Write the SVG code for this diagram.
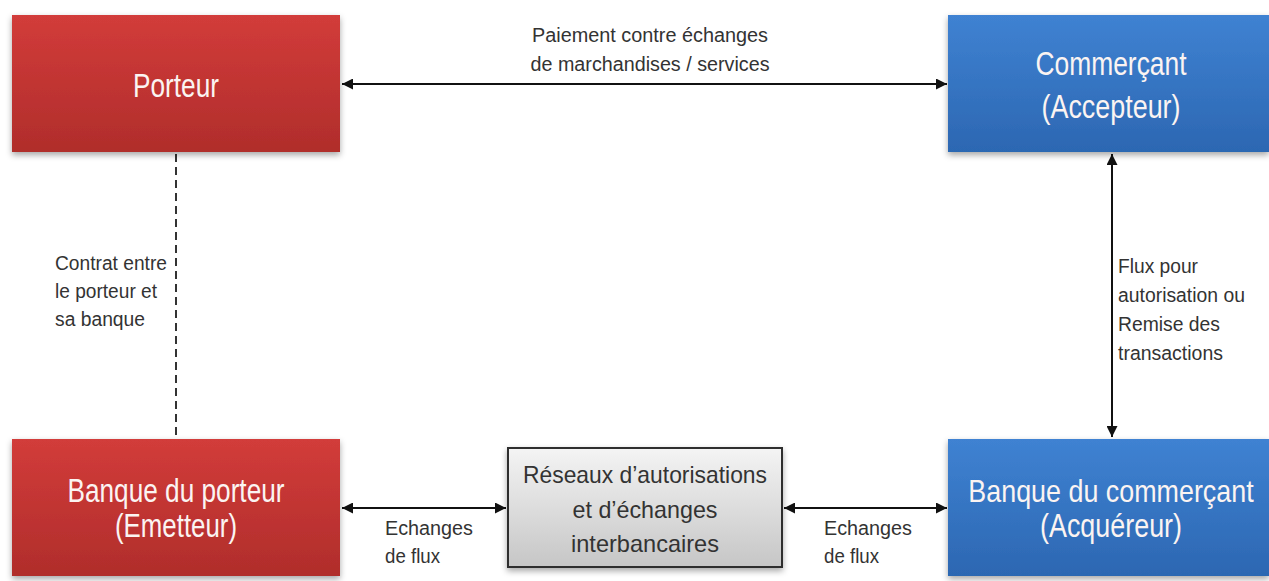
<svg xmlns="http://www.w3.org/2000/svg" width="1269" height="581" viewBox="0 0 1269 581">
  <defs>
    <linearGradient id="gRed" x1="0" y1="0" x2="0" y2="1">
      <stop offset="0" stop-color="#d23c3a"/>
      <stop offset="1" stop-color="#b02d2b"/>
    </linearGradient>
    <linearGradient id="gBlue" x1="0" y1="0" x2="0" y2="1">
      <stop offset="0" stop-color="#3f82d2"/>
      <stop offset="1" stop-color="#2c67b2"/>
    </linearGradient>
    <linearGradient id="gGray" x1="0" y1="0" x2="0" y2="1">
      <stop offset="0" stop-color="#f4f4f4"/>
      <stop offset="1" stop-color="#c6c6c6"/>
    </linearGradient>
    <filter id="shadow" x="-10%" y="-10%" width="120%" height="130%">
      <feDropShadow dx="0" dy="3" stdDeviation="3" flood-color="#000" flood-opacity="0.35"/>
    </filter>
    <marker id="arrow" viewBox="0 0 10 10" refX="10" refY="5" markerWidth="5.5" markerHeight="5.5" orient="auto-start-reverse" markerUnits="strokeWidth">
      <path d="M0,0 L10,5 L0,10 z" fill="#111"/>
    </marker>
  </defs>
  <style>
    .node-text { font-family: "Liberation Sans", Arial, sans-serif; fill: #fbf4f2; text-anchor: middle; }
    .big { font-size: 33px; }
    .mid { font-size: 24px; fill: #333; }
    .label { font-family: "Liberation Sans", Arial, sans-serif; font-size: 20px; fill: #333; }
    .conn { stroke: #111; stroke-width: 2; fill: none; }
    .bi { marker-start: url(#arrow); marker-end: url(#arrow); }
    .dash { stroke: #333; stroke-width: 2; stroke-dasharray: 8 5; fill: none; }
  </style>

  <rect width="1269" height="581" fill="#ffffff"/>

  <!-- connectors -->
  <g id="connectors">
    <line class="conn bi" x1="342" y1="84" x2="947" y2="84"/>
    <line class="dash" x1="176" y1="154" x2="176" y2="437"/>
    <line class="conn bi" x1="1112" y1="154" x2="1112" y2="437"/>
    <line class="conn bi" x1="342" y1="508" x2="506" y2="508"/>
    <line class="conn bi" x1="784" y1="508" x2="947" y2="508"/>

    <text class="label" text-anchor="middle" x="650" y="42" textLength="236" lengthAdjust="spacingAndGlyphs">Paiement  contre échanges</text>
    <text class="label" text-anchor="middle" x="650" y="71" textLength="239" lengthAdjust="spacingAndGlyphs">de marchandises / services</text>

    <text class="label" x="55" y="270" textLength="112" lengthAdjust="spacingAndGlyphs">Contrat entre</text>
    <text class="label" x="55" y="298" textLength="102" lengthAdjust="spacingAndGlyphs">le porteur et</text>
    <text class="label" x="55" y="326" textLength="90" lengthAdjust="spacingAndGlyphs">sa banque</text>

    <text class="label" x="1118" y="273" textLength="80" lengthAdjust="spacingAndGlyphs">Flux pour</text>
    <text class="label" x="1118" y="302" textLength="127" lengthAdjust="spacingAndGlyphs">autorisation ou</text>
    <text class="label" x="1118" y="331" textLength="102" lengthAdjust="spacingAndGlyphs">Remise des</text>
    <text class="label" x="1118" y="360" textLength="105" lengthAdjust="spacingAndGlyphs">transactions</text>

    <text class="label" x="385" y="535" textLength="88" lengthAdjust="spacingAndGlyphs">Echanges</text>
    <text class="label" x="385" y="563" textLength="55" lengthAdjust="spacingAndGlyphs">de flux</text>
    <text class="label" x="824" y="535" textLength="88" lengthAdjust="spacingAndGlyphs">Echanges</text>
    <text class="label" x="824" y="563" textLength="55" lengthAdjust="spacingAndGlyphs">de flux</text>
  </g>

  <!-- nodes -->
  <g id="porteur">
    <rect x="12" y="15" width="328" height="137" fill="url(#gRed)" filter="url(#shadow)"/>
    <text class="node-text big" x="176" y="97" textLength="86" lengthAdjust="spacingAndGlyphs">Porteur</text>
  </g>

  <g id="commercant">
    <rect x="948" y="15" width="321" height="137" fill="url(#gBlue)" filter="url(#shadow)"/>
    <text class="node-text big" x="1111" y="75" textLength="151" lengthAdjust="spacingAndGlyphs">Commerçant</text>
    <text class="node-text big" x="1111" y="118" textLength="139" lengthAdjust="spacingAndGlyphs">(Accepteur)</text>
  </g>

  <g id="banque-porteur">
    <rect x="12" y="439" width="328" height="137" fill="url(#gRed)" filter="url(#shadow)"/>
    <text class="node-text big" x="176" y="502" textLength="217" lengthAdjust="spacingAndGlyphs">Banque du porteur</text>
    <text class="node-text big" x="176" y="537" textLength="122" lengthAdjust="spacingAndGlyphs">(Emetteur)</text>
  </g>

  <g id="reseaux">
    <rect x="508" y="448" width="274" height="119" fill="url(#gGray)" stroke="#2e2e2e" stroke-width="2" filter="url(#shadow)"/>
    <text class="node-text mid" x="645" y="483" textLength="244" lengthAdjust="spacingAndGlyphs">Réseaux d’autorisations</text>
    <text class="node-text mid" x="645" y="518" textLength="145" lengthAdjust="spacingAndGlyphs">et d’échanges</text>
    <text class="node-text mid" x="645" y="552" textLength="148" lengthAdjust="spacingAndGlyphs">interbancaires</text>
  </g>

  <g id="banque-commercant">
    <rect x="948" y="439" width="321" height="137" fill="url(#gBlue)" filter="url(#shadow)"/>
    <!-- long title: condensed horizontally so it stays inside the box -->
    <text class="node-text" font-size="32" transform="translate(1111 502) scale(0.84 1)">Banque du commerçant</text>
    <text class="node-text big" x="1111" y="537" textLength="142" lengthAdjust="spacingAndGlyphs">(Acquéreur)</text>
  </g>
</svg>
